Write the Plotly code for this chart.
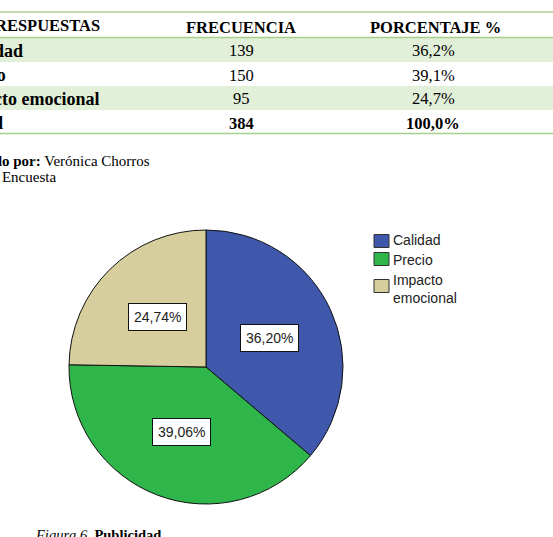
import math
import plotly.graph_objects as go

# ---- data ----
categories = ["Calidad", "Precio", "Impacto emocional"]
legend_labels = ["Calidad", "Precio", "Impacto<br>emocional"]
frecuencia = [139, 150, 95]
porcentaje_tabla = ["36,2%", "39,1%", "24,7%"]
total_frec = 384
total_pct = "100,0%"
pie_labels = ["36,20%", "39,06%", "24,74%"]
colors = ["#3f58ab", "#2fb64a", "#d6cf9d"]

W, H = 553, 537


def px(x):
    return x / W


def py(y):
    return 1 - y / H


fig = go.Figure()

# pie geometry (pixels)
cx, cy, R = 206, 367, 137
fig.add_trace(go.Pie(
    labels=categories,
    values=frecuencia,
    sort=False,
    direction="clockwise",
    rotation=0,
    marker=dict(colors=colors, line=dict(color="#111111", width=1)),
    textinfo="none",
    hoverinfo="label+percent",
    showlegend=False,
    domain=dict(x=[px(cx - R), px(cx + R)], y=[py(cy + R), py(cy - R)]),
))

annotations = []
shapes = []

# pie value labels in white boxes at mid-angle
total = sum(frecuencia)
cum = 0
for v, lab in zip(frecuencia, pie_labels):
    mid = (cum + v / 2) / total * 2 * math.pi
    cum += v
    lx = cx + 0.51 * R * math.sin(mid)
    ly = cy - 0.51 * R * math.cos(mid)
    annotations.append(dict(
        x=px(lx), y=py(ly), xref="paper", yref="paper", text=lab,
        showarrow=False, bgcolor="white", bordercolor="#111111", borderwidth=1,
        borderpad=5, font=dict(family="Liberation Sans, Arial", size=14, color="#222222"),
        xanchor="center", yanchor="middle"))

# custom legend
leg_rows = [(241, 240), (259, 260), (286, 0)]
for i, (lab, col) in enumerate(zip(legend_labels, colors)):
    sy = leg_rows[i][0]
    shapes.append(dict(type="rect", xref="paper", yref="paper",
                       x0=px(374), x1=px(389), y0=py(sy + 6.5), y1=py(sy - 6.5),
                       fillcolor=col, line=dict(color="#333333", width=1)))
    if i < 2:
        annotations.append(dict(x=px(391), y=py(leg_rows[i][1]), xref="paper", yref="paper",
                                text=lab, showarrow=False, xanchor="left", yanchor="middle",
                                font=dict(family="Liberation Sans, Arial", size=14, color="#222222")))
    else:
        annotations.append(dict(x=px(391), y=py(289), xref="paper", yref="paper",
                                text=lab, showarrow=False, xanchor="left", yanchor="middle",
                                align="left",
                                font=dict(family="Liberation Sans, Arial", size=14, color="#222222")))

# ---- table ----
green_bg = "#e2efd9"
green_line = "#a8d08d"
for (y0, y1) in [(38, 62), (86, 110)]:
    shapes.append(dict(type="rect", xref="paper", yref="paper", x0=0, x1=1,
                       y0=py(y1), y1=py(y0), fillcolor=green_bg, line=dict(width=0), layer="below"))
for yl in [12, 37.5, 133.5]:
    shapes.append(dict(type="line", xref="paper", yref="paper", x0=0, x1=1,
                       y0=py(yl), y1=py(yl), line=dict(color=green_line, width=1.3)))

serif = "Liberation Serif, Times New Roman, serif"


def txt(x, y, s, anchor="center", size=16):
    annotations.append(dict(x=px(x), y=py(y), xref="paper", yref="paper", text=s,
                            showarrow=False, xanchor=anchor, yanchor="middle",
                            font=dict(family=serif, size=size, color="black")))


txt(102, 25, "<b>RESPUESTAS</b>", "right", 16.5)
txt(241, 27, "<b>FRECUENCIA</b>", "center", 16.5)
txt(435, 27, "<b>PORCENTAJE %</b>", "center", 16.5)

row_y = [51, 75, 99]
label_x = [-40, -45.5, -49.2]
for cat, f, p, y, lxp in zip(categories, frecuencia, porcentaje_tabla, row_y, label_x):
    txt(lxp, y, f"<b>{cat}</b>", "left", 18)
    txt(241.5, y, str(f), "center", 16.5)
    txt(433, y, p, "center", 16.5)
txt(-38, 123, "<b>Total</b>", "left", 18)
txt(241.5, 123, f"<b>{total_frec}</b>", "center", 16.5)
txt(433, 123, f"<b>{total_pct}</b>", "center", 16.5)

# source notes
annotations.append(dict(x=px(-60), y=py(161), xref="paper", yref="paper",
                        text="<b>Elaborado por:</b> Verónica Chorros", showarrow=False,
                        xanchor="left", yanchor="middle",
                        font=dict(family=serif, size=15, color="black")))
annotations.append(dict(x=px(-53), y=py(177), xref="paper", yref="paper",
                        text="<b>Fuente:</b> Encuesta", showarrow=False,
                        xanchor="left", yanchor="middle",
                        font=dict(family=serif, size=15, color="black")))

# caption
annotations.append(dict(x=px(33), y=py(535), xref="paper", yref="paper",
                        text="<i>Figura 6.</i> <b>Publicidad</b>", showarrow=False,
                        xanchor="left", yanchor="middle",
                        font=dict(family=serif, size=14.5, color="black")))

fig.update_layout(
    width=W, height=H,
    margin=dict(l=0, r=0, t=0, b=0),
    paper_bgcolor="white", plot_bgcolor="white",
    shapes=shapes, annotations=annotations,
    showlegend=False,
)

fig.write_html("out.html")
